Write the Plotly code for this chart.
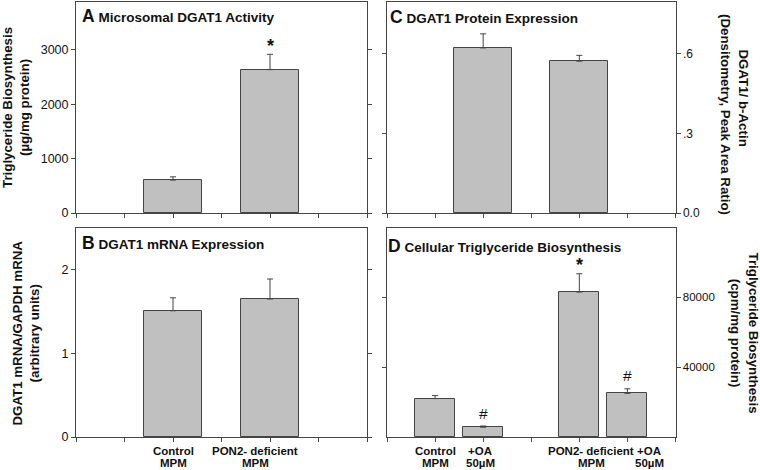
import plotly.graph_objects as go

# ---------------- data ----------------
groups_ab = ["Control MPM", "PON2- deficient MPM"]
a_values = [605, 2636]
a_errors = [60, 282]
a_marks = ["", "*"]

b_values = [1.51, 1.65]
b_errors = [0.155, 0.24]

c_values = [0.622, 0.572]
c_errors = [0.053, 0.022]

groups_d = ["Control MPM", "Control MPM +OA 50µM", "PON2- deficient MPM", "PON2- deficient MPM +OA 50µM"]
d_values = [22000, 5600, 83000, 25000]
d_errors = [1700, 700, 10500, 2600]
d_marks = ["", "#", "*", "#"]

labels_ab = [["Control", "MPM"], ["PON2- deficient", "MPM"]]
labels_d = [["Control", "MPM"], ["+OA", "50µM"], ["PON2- deficient", "MPM"], ["+OA", "50µM"]]

a_ticks = [0, 1000, 2000, 3000]
b_ticks = [0, 1, 2]
c_ticks = [0.0, 0.3, 0.6]
c_ticktext = ["0.0", ".3", ".6"]
d_ticks = [40000, 80000]

# ---------------- layout helpers ----------------
W, H = 760, 470
FONT = "Liberation Sans, Arial, sans-serif"
BAR_FILL = "#c0c0c0"
LINE = "#454545"


def px(x):
    return x / W


def py(y):
    return 1 - y / H


# category slots (blank spacer slots around the bars)
slots_ab = ["s0", "s1", groups_ab[0], "s3", groups_ab[1], "s5", "s6"]
slots_d = ["s0", groups_d[0], groups_d[1], "s3", groups_d[2], groups_d[3], "s6"]

fig = go.Figure()


def add_bars(xname, yname, cats, vals, errs, width):
    fig.add_trace(go.Bar(
        x=cats, y=vals, xaxis=xname, yaxis=yname, width=width,
        marker=dict(color=BAR_FILL, line=dict(color=LINE, width=1)),
        error_y=dict(type="data", array=errs, arrayminus=[0] * len(errs),
                     symmetric=False, color=LINE, thickness=1, width=3),
        showlegend=False, hoverinfo="skip",
    ))


add_bars("x", "y", groups_ab, a_values, a_errors, 1.2)
add_bars("x2", "y2", groups_ab, c_values, c_errors, 1.2)
add_bars("x3", "y3", groups_ab, b_values, b_errors, 1.2)
add_bars("x4", "y4", groups_d, d_values, d_errors, 0.83)

dom_x_left = [px(76), px(367)]
dom_x_right = [px(387), px(675.5)]
dom_y_top = [py(213), py(2)]
dom_y_bot = [py(437), py(228)]


def xaxis(domain, anchor, slots):
    return dict(
        domain=domain, anchor=anchor, type="category",
        categoryorder="array", categoryarray=slots, range=[0, 6],
        tickmode="array", tickvals=slots, ticktext=["" for _ in slots],
        showline=True, linecolor=LINE, linewidth=1, mirror=True,
        ticks="outside", ticklen=4, tickcolor=LINE, tickwidth=1,
        showgrid=False, zeroline=False,
        automargin=False, fixedrange=True,
    )


def yaxis(domain, anchor, rng, tv, tt, side, fsize):
    return dict(
        domain=domain, anchor=anchor, range=rng, side=side,
        tickmode="array", tickvals=tv, ticktext=tt,
        showline=True, linecolor=LINE, linewidth=1, mirror="ticks",
        ticks="outside", ticklen=4, tickcolor=LINE, tickwidth=1,
        showgrid=False, zeroline=False,
        tickfont=dict(family=FONT, size=fsize, color="#111"),
        automargin=False, fixedrange=True,
    )


fig.update_layout(
    width=W, height=H,
    margin=dict(l=0, r=0, t=0, b=0, autoexpand=False),
    paper_bgcolor="white", plot_bgcolor="white",
    font=dict(family=FONT, color="#111"),
    bargap=0,
    xaxis=xaxis(dom_x_left, "y", slots_ab),
    yaxis=yaxis(dom_y_top, "x", [0, 3880], a_ticks, [str(t) for t in a_ticks], "left", 12.5),
    xaxis2=xaxis(dom_x_right, "y2", slots_ab),
    yaxis2=yaxis(dom_y_top, "x2", [0, 0.795], c_ticks, c_ticktext, "right", 12),
    xaxis3=xaxis(dom_x_left, "y3", slots_ab),
    yaxis3=yaxis(dom_y_bot, "x3", [0, 2.5], b_ticks, [str(t) for t in b_ticks], "left", 12.5),
    xaxis4=xaxis(dom_x_right, "y4", slots_d),
    yaxis4=yaxis(dom_y_bot, "x4", [0, 119700], d_ticks, [str(t) for t in d_ticks], "right", 11.5),
)

ann = []
panel_font = dict(family=FONT, size=13.5, color="#111")
title_font = dict(family=FONT, size=13.3, color="#111")


def panel_title(letter, text, x, y):
    ann.append(dict(
        x=px(x), y=py(y), xref="paper", yref="paper", xanchor="left", yanchor="middle",
        text=f"<b><span style='font-size:17.5px'>{letter}</span> {text}</b>",
        showarrow=False, font=panel_font,
    ))


panel_title("A", "Microsomal DGAT1 Activity", 80, 16)
panel_title("B", "DGAT1 mRNA Expression", 80, 243)
panel_title("C", "DGAT1 Protein Expression", 388, 17)
panel_title("D", "Cellular Triglyceride Biosynthesis", 386, 246)


def axis_title(text, x, y, angle):
    ann.append(dict(
        x=px(x), y=py(y), xref="paper", yref="paper", xanchor="center", yanchor="middle",
        text=f"<b>{text}</b>", textangle=angle, showarrow=False, font=title_font,
    ))


axis_title("Triglyceride Biosynthesis<br>(µg/mg protein)", 16, 108, -90)
axis_title("DGAT1 mRNA/GAPDH mRNA<br>(arbitrary units)", 25.5, 333, -90)
axis_title("DGAT1/ b-Actin", 742.5, 98, 90)
axis_title("(Densitometry, Peak Area Ratio)", 726, 114, 90)
axis_title("Triglyceride Biosynthesis<br>(cpm/mg protein)", 744.5, 333, 90)


def sig_marks(xref, yref, cats, vals, errs, marks):
    for c, v, e, m in zip(cats, vals, errs, marks):
        if not m:
            continue
        star = m == "*"
        ann.append(dict(
            x=c, y=v + e, xref=xref, yref=yref, xanchor="center", yanchor="middle",
            text=f"<b>{m}</b>" if star else m, showarrow=False,
            yshift=8.5 if star else 13,
            font=dict(family=FONT, size=18 if star else 15.5, color="#111"),
        ))


sig_marks("x", "y", groups_ab, a_values, a_errors, a_marks)
sig_marks("x4", "y4", groups_d, d_values, d_errors, d_marks)

# category labels under the bottom panels (hand-placed like the original figure)
label_font = dict(family=FONT, size=11.5, color="#111")
LINE_Y = [451, 463]


def cat_labels(xref, cats, labels, shifts):
    for c, lab, s in zip(cats, labels, shifts):
        for line, yy in zip(lab, LINE_Y):
            ann.append(dict(
                x=c, y=py(yy), xref=xref, yref="paper", xanchor="center", yanchor="middle",
                text=f"<b>{line}</b>", showarrow=False, xshift=s, font=label_font,
            ))


cat_labels("x3", groups_ab, labels_ab, [0, -15])
cat_labels("x4", groups_d, labels_d, [0, -3, 12, 22])

fig.update_layout(annotations=ann)

fig.write_html("out.html", config={"displayModeBar": False},
               post_script="document.body.style.margin='0';")
